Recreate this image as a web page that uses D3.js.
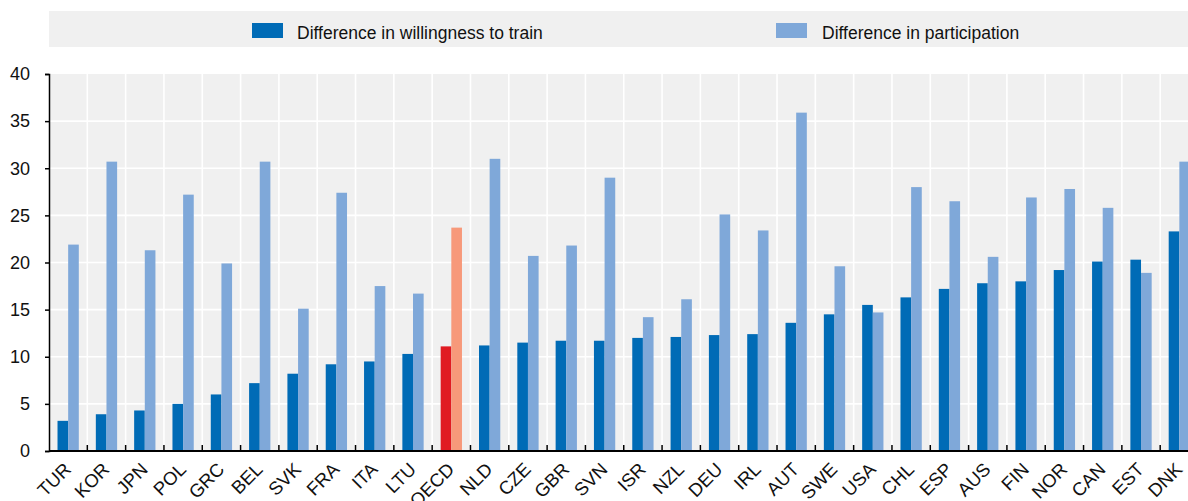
<!DOCTYPE html>
<html>
<head>
<meta charset="utf-8">
<script src="https://cdn.jsdelivr.net/npm/d3@7/dist/d3.min.js"></script>
<style>
  html, body { margin: 0; padding: 0; background: #fff; }
  svg { display: block; font-family: "Liberation Sans", Arial, sans-serif; }
</style>
</head>
<body>
<svg id="chart" width="1188" height="501"></svg>
<script>
const categories = ["TUR","KOR","JPN","POL","GRC","BEL","SVK","FRA","ITA","LTU","OECD","NLD","CZE","GBR","SVN","ISR","NZL","DEU","IRL","AUT","SWE","USA","CHL","ESP","AUS","FIN","NOR","CAN","EST","DNK"];
const willingness = [3.2,3.9,4.3,5.0,6.0,7.2,8.2,9.2,9.5,10.3,11.1,11.2,11.5,11.7,11.7,12.0,12.1,12.3,12.4,13.6,14.5,15.5,16.3,17.2,17.8,18.0,19.2,20.1,20.3,23.3];
const participation = [21.9,30.7,21.3,27.2,19.9,30.7,15.1,27.4,17.5,16.7,23.7,31.0,20.7,21.8,29.0,14.2,16.1,25.1,23.4,35.9,19.6,14.7,28.0,26.5,20.6,26.9,27.8,25.8,18.9,30.7];
const seriesNames = ["Difference in willingness to train","Difference in participation"];
const yTicks = [0,5,10,15,20,25,30,35,40];

const colors = { dark: "#006bb6", light: "#7fa8d9", oecdDark: "#e01b22", oecdLight: "#f7997a" };

(function () {
const svg = d3.select("#chart");
const pLeft = 49, pRight = 1198.5, pTop = 74, pBottom = 451;

const x = d3.scaleBand().domain(categories).range([pLeft, pRight]).paddingInner(0).paddingOuter(0);
const x1 = d3.scaleBand().domain(["w","p"]).range([0, x.bandwidth()]).paddingInner(0).paddingOuter(0.8);
const y = d3.scaleLinear().domain([0, 40]).range([pBottom, pTop]);

// Legend box
svg.append("rect").attr("x", 49).attr("y", 11).attr("width", 1188 - 49).attr("height", 36).attr("fill", "#f0f0f0");
const legendItems = [
  { name: seriesNames[0], color: colors.dark, sx: 252, tx: 297 },
  { name: seriesNames[1], color: colors.light, sx: 776, tx: 822 }
];
legendItems.forEach(it => {
  svg.append("rect").attr("x", it.sx).attr("y", 23).attr("width", 31).attr("height", 15).attr("fill", it.color);
  svg.append("text").attr("x", it.tx).attr("y", 38.5).attr("font-size", 17.5).attr("fill", "#111").text(it.name);
});

// Plot background
svg.append("rect").attr("x", pLeft).attr("y", pTop).attr("width", 1188 - pLeft).attr("height", pBottom - pTop).attr("fill", "#f0f0f0");

// Horizontal gridlines
svg.append("g").selectAll("line").data(yTicks.filter(t => t > 0 && t < 40)).join("line")
  .attr("x1", pLeft).attr("x2", 1188).attr("y1", d => y(d)).attr("y2", d => y(d))
  .attr("stroke", "#fff").attr("stroke-width", 1.6);

// Vertical gridlines at category boundaries
const boundaries = categories.slice(1).map(c => x(c));
svg.append("g").selectAll("line").data(boundaries).join("line")
  .attr("x1", d => d).attr("x2", d => d).attr("y1", pTop).attr("y2", pBottom)
  .attr("stroke", "#fff").attr("stroke-width", 1.6);

// Bars
const data = categories.map((c, i) => ({ c, w: willingness[i], p: participation[i] }));
const g = svg.append("g");
g.selectAll("rect.w").data(data).join("rect").attr("class", "w")
  .attr("x", d => x(d.c) + x1("w")).attr("width", x1.bandwidth())
  .attr("y", d => y(d.w)).attr("height", d => y(0) - y(d.w))
  .attr("fill", d => d.c === "OECD" ? colors.oecdDark : colors.dark);
g.selectAll("rect.p").data(data).join("rect").attr("class", "p")
  .attr("x", d => x(d.c) + x1("p")).attr("width", x1.bandwidth())
  .attr("y", d => y(d.p)).attr("height", d => y(0) - y(d.p))
  .attr("fill", d => d.c === "OECD" ? colors.oecdLight : colors.light);

// X axis line & ticks (ticks pointing up)
svg.append("line").attr("x1", pLeft).attr("x2", 1188).attr("y1", pBottom).attr("y2", pBottom)
  .attr("stroke", "#000").attr("stroke-width", 2);
svg.append("g").selectAll("line").data(boundaries).join("line")
  .attr("x1", d => d).attr("x2", d => d).attr("y1", pBottom).attr("y2", pBottom - 6)
  .attr("stroke", "#000").attr("stroke-width", 1.5);

// Y axis
const yAxis = d3.axisLeft(y).tickValues(yTicks).tickSize(4).tickPadding(15);
const ya = svg.append("g").attr("transform", `translate(${pLeft},0)`).call(yAxis);
ya.select(".domain").attr("stroke", "#000").attr("stroke-width", 1.5);
ya.selectAll(".tick line").attr("stroke", "#000").attr("stroke-width", 1.5);
ya.selectAll(".tick text").attr("font-size", 18).attr("fill", "#111")
  .attr("font-family", "'Liberation Sans', Arial, sans-serif");

// X labels rotated
svg.append("g").selectAll("text").data(categories).join("text")
  .attr("transform", d => `translate(${x(d) + x.bandwidth() / 2 - 0.5},${pBottom + 15}) rotate(-45)`)
  .attr("text-anchor", "end").attr("dy", "0.35em")
  .attr("font-size", 18.5).attr("fill", "#111").text(d => d);
})();
</script>
</body>
</html>
